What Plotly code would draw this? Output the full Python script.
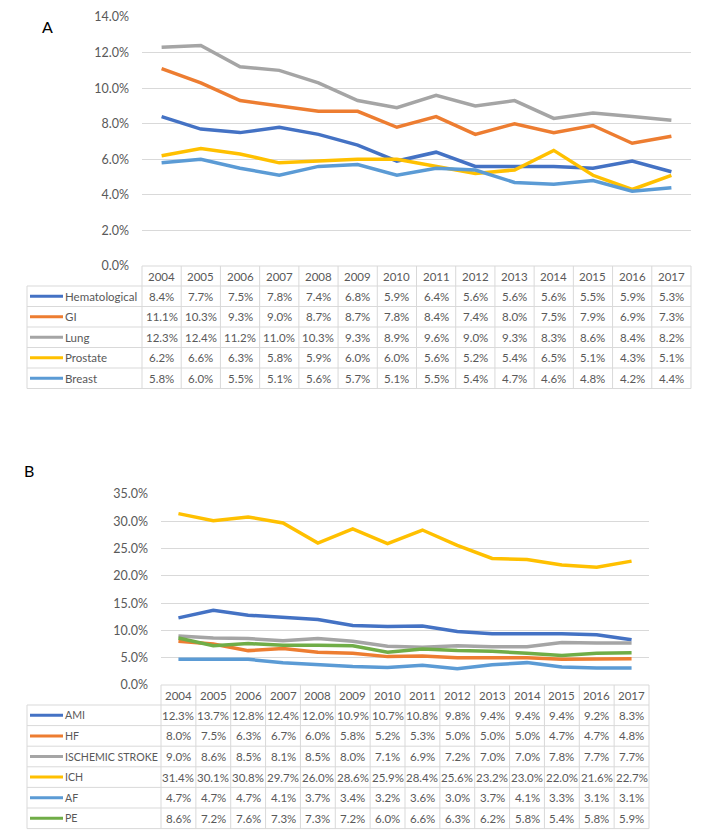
import plotly.graph_objects as go

W, H = 708, 837
FONT = "Lato"
TXT = "#595959"
GRID = "#D9D9D9"

years = [str(y) for y in range(2004, 2018)]

# Panel A (cancer)
a_names = ["Hematological", "GI", "Lung", "Prostate", "Breast"]
a_colors = ["#4472C4", "#ED7D31", "#A5A5A5", "#FFC000", "#5B9BD5"]
hematological = [8.4, 7.7, 7.5, 7.8, 7.4, 6.8, 5.9, 6.4, 5.6, 5.6, 5.6, 5.5, 5.9, 5.3]
gi = [11.1, 10.3, 9.3, 9.0, 8.7, 8.7, 7.8, 8.4, 7.4, 8.0, 7.5, 7.9, 6.9, 7.3]
lung = [12.3, 12.4, 11.2, 11.0, 10.3, 9.3, 8.9, 9.6, 9.0, 9.3, 8.3, 8.6, 8.4, 8.2]
prostate = [6.2, 6.6, 6.3, 5.8, 5.9, 6.0, 6.0, 5.6, 5.2, 5.4, 6.5, 5.1, 4.3, 5.1]
breast = [5.8, 6.0, 5.5, 5.1, 5.6, 5.7, 5.1, 5.5, 5.4, 4.7, 4.6, 4.8, 4.2, 4.4]
a_series = [hematological, gi, lung, prostate, breast]

# Panel B (cardiovascular)
b_names = ["AMI", "HF", "ISCHEMIC STROKE", "ICH", "AF", "PE"]
b_colors = ["#4472C4", "#ED7D31", "#A5A5A5", "#FFC000", "#5B9BD5", "#70AD47"]
ami = [12.3, 13.7, 12.8, 12.4, 12.0, 10.9, 10.7, 10.8, 9.8, 9.4, 9.4, 9.4, 9.2, 8.3]
hf = [8.0, 7.5, 6.3, 6.7, 6.0, 5.8, 5.2, 5.3, 5.0, 5.0, 5.0, 4.7, 4.7, 4.8]
ischemic = [9.0, 8.6, 8.5, 8.1, 8.5, 8.0, 7.1, 6.9, 7.2, 7.0, 7.0, 7.8, 7.7, 7.7]
ich = [31.4, 30.1, 30.8, 29.7, 26.0, 28.6, 25.9, 28.4, 25.6, 23.2, 23.0, 22.0, 21.6, 22.7]
af = [4.7, 4.7, 4.7, 4.1, 3.7, 3.4, 3.2, 3.6, 3.0, 3.7, 4.1, 3.3, 3.1, 3.1]
pe = [8.6, 7.2, 7.6, 7.3, 7.3, 7.2, 6.0, 6.6, 6.3, 6.2, 5.8, 5.4, 5.8, 5.9]
b_series = [ami, hf, ischemic, ich, af, pe]


def px(x):
    return x / W


def py(y):
    return 1 - y / H


panels = [
    dict(names=a_names, colors=a_colors, series=a_series, xa="x", ya="y",
         left=142, right=691, top=17, bottom=266, ymax=0.14, dtick=0.02,
         label="A", lx=47, ly=26, header=20, row=20.5, namesize=11.5),
    dict(names=b_names, colors=b_colors, series=b_series, xa="x2", ya="y2",
         left=161, right=649, top=494, bottom=685, ymax=0.35, dtick=0.05,
         label="B", lx=29, ly=470, header=20, row=20.6, namesize=10.6),
]

fig = go.Figure()
shapes = []
annotations = []
LEG_L = 27
TFONT = dict(family=FONT, size=11.5, color=TXT)

for p in panels:
    idx = list(range(len(years)))
    for name, col, vals in zip(p["names"], p["colors"], p["series"]):
        fig.add_trace(go.Scatter(
            x=idx, y=[v / 100 for v in vals], mode="lines", name=name,
            line=dict(color=col, width=3.5), xaxis=p["xa"], yaxis=p["ya"],
            showlegend=False, hoverinfo="skip"))

    ys = [p["bottom"], p["bottom"] + p["header"]]
    for _ in p["names"]:
        ys.append(ys[-1] + p["row"])
    shapes.append(dict(type="line", xref="paper", yref="paper",
                       x0=px(p["left"]), x1=px(p["right"]), y0=py(ys[0]), y1=py(ys[0]),
                       line=dict(color=GRID, width=1)))
    for yv in ys[1:]:
        shapes.append(dict(type="line", xref="paper", yref="paper",
                           x0=px(LEG_L), x1=px(p["right"]), y0=py(yv), y1=py(yv),
                           line=dict(color=GRID, width=1)))
    for xv in (p["left"], p["right"]):
        shapes.append(dict(type="line", xref="paper", yref="paper",
                           x0=px(xv), x1=px(xv), y0=py(ys[0]), y1=py(ys[-1]),
                           line=dict(color=GRID, width=1)))
    shapes.append(dict(type="line", xref="paper", yref="paper",
                       x0=px(LEG_L), x1=px(LEG_L), y0=py(ys[1]), y1=py(ys[-1]),
                       line=dict(color=GRID, width=1)))
    for i in range(1, len(years)):
        shapes.append(dict(type="line", xref=p["xa"], yref="paper",
                           x0=i - 0.5, x1=i - 0.5, y0=py(ys[0]), y1=py(ys[-1]),
                           line=dict(color=GRID, width=1)))
    hy = py((ys[0] + ys[1]) / 2)
    for i, yr in enumerate(years):
        annotations.append(dict(x=i, y=hy, xref=p["xa"], yref="paper", text=yr,
                                xanchor="center", yanchor="middle",
                                showarrow=False, font=TFONT))
    for r, (name, col, vals) in enumerate(zip(p["names"], p["colors"], p["series"])):
        cy = (ys[r + 1] + ys[r + 2]) / 2
        shapes.append(dict(type="line", xref="paper", yref="paper",
                           x0=px(30), x1=px(63), y0=py(cy), y1=py(cy),
                           line=dict(color=col, width=3)))
        annotations.append(dict(x=px(63), y=py(cy), xref="paper", yref="paper",
                                text=name, xanchor="left", yanchor="middle",
                                showarrow=False,
                                font=dict(family=FONT, size=p["namesize"], color=TXT)))
        for i, v in enumerate(vals):
            annotations.append(dict(x=i, y=py(cy), xref=p["xa"], yref="paper",
                                    text=f"{v:.1f}%", xanchor="center", yanchor="middle",
                                    showarrow=False, font=TFONT))
    annotations.append(dict(x=px(p["lx"]), y=py(p["ly"]), xref="paper", yref="paper",
                            text=p["label"], xanchor="center", yanchor="middle",
                            showarrow=False,
                            font=dict(family=FONT, size=16, color="#000000")))

axis_common = dict(showline=False, zeroline=False, automargin=False)
fig.update_layout(
    width=W, height=H, margin=dict(l=0, r=0, t=0, b=0, pad=0),
    paper_bgcolor="white", plot_bgcolor="white",
    shapes=shapes, annotations=annotations, showlegend=False,
    xaxis=dict(domain=[px(142), px(691)], range=[-0.5, 13.5], showgrid=False,
               showticklabels=False, anchor="y", **axis_common),
    yaxis=dict(domain=[py(266), py(17)], range=[0, 0.14], dtick=0.02, tickformat=".1%",
               showgrid=True, gridcolor=GRID, gridwidth=1, anchor="x",
               ticklabelstandoff=12,
               tickfont=dict(family=FONT, size=12.5, color=TXT), **axis_common),
    xaxis2=dict(domain=[px(161), px(649)], range=[-0.5, 13.5], showgrid=False,
                showticklabels=False, anchor="y2", **axis_common),
    yaxis2=dict(domain=[py(685), py(494)], range=[0, 0.35], dtick=0.05, tickformat=".1%",
                showgrid=True, gridcolor=GRID, gridwidth=1, anchor="x2",
                ticklabelstandoff=12,
                tickfont=dict(family=FONT, size=12.5, color=TXT), **axis_common),
)

fig.write_html("out.html", config={"displayModeBar": False},
               post_script="document.body.style.margin='0px';")
